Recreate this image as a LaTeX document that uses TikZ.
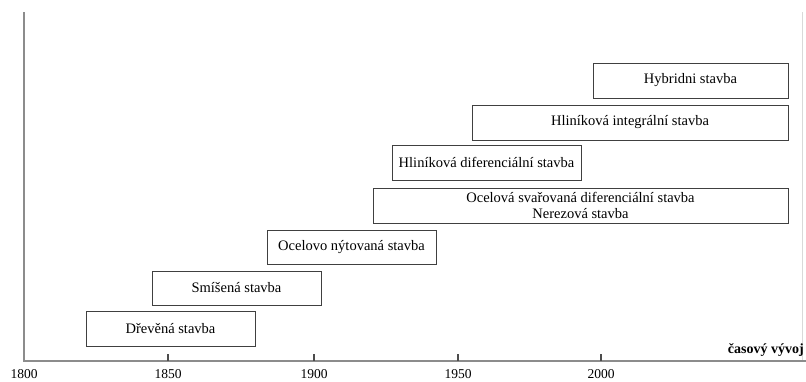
\documentclass[tikz,border=0pt]{standalone}
\usepackage{fontspec}
\setmainfont{Liberation Serif}
\begin{document}
\begin{tikzpicture}[x=1pt,y=-1pt,
  box/.style={draw=black!75, line width=0.9pt, inner sep=0pt, align=center, font=\fontsize{14.5}{16}\selectfont},
  axisline/.style={draw=black!45, line width=1.6pt},
  tick/.style={draw=black!70, line width=1.4pt},
  yearlbl/.style={font=\fontsize{13.5}{15}\selectfont, inner sep=0pt}]
\useasboundingbox (0,0) rectangle (806,381);
% axes
\coordinate (ytop) at (24,12);
\coordinate (orig) at (24,361);
\coordinate (xend) at (806,361);
\coordinate (rtop) at (802,12);
\coordinate (rbot) at (802,361);
\draw[draw=black!15, line width=1pt] (rtop) -- (rbot);
\draw[axisline] (ytop) -- (orig) -- (xend);
% ticks
\foreach \xx/\lab in {168/1850, 314/1900, 458/1950, 601/2000}{
  \coordinate (t\lab) at (\xx,354);
  \coordinate (b\lab) at (\xx,361);
  \draw[tick] (t\lab) -- (b\lab);
  \node[yearlbl, anchor=base] (l\lab) at (\xx,378.5) {\lab};
}
\node[yearlbl, anchor=base] (l1800) at (24,378.5) {1800};
\node[font=\fontsize{14}{16}\selectfont\bfseries, inner sep=0pt, anchor=base east] (cas) at (804,353) {časový vývoj};
% boxes
\node[box, minimum width=169pt, minimum height=35pt] (drev) at (170.5,328.5) {Dřevěná stavba};
\node[box, minimum width=169pt, minimum height=34pt] (smis) at (236.5,288) {Smíšená stavba};
\node[box, minimum width=169pt, minimum height=34pt] (ocnyt) at (351.5,247) {Ocelovo nýtovaná stavba};
\node[box, minimum width=415pt, minimum height=35pt] (ocsvar) at (580.5,205.5) {Ocelová svařovaná diferenciální stavba\\Nerezová stavba};
\node[box, minimum width=189pt, minimum height=35pt] (hldif) at (486.5,162.5) {Hliníková diferenciální stavba};
\node[box, minimum width=316pt, minimum height=35pt] (hlint) at (630,122.5) {Hliníková integrální stavba};
\node[box, minimum width=195pt, minimum height=35pt] (hyb) at (690.5,80.5) {Hybridni stavba};
\end{tikzpicture}
\end{document}
